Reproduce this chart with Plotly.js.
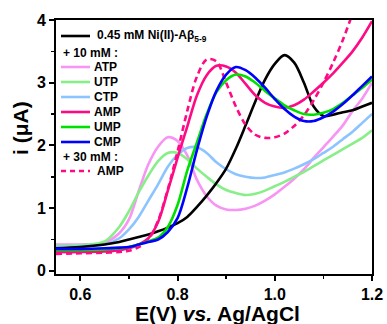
<!DOCTYPE html>
<html>
<head>
<meta charset="utf-8">
<script src="https://cdn.plot.ly/plotly-3.0.1.min.js"></script>
<style>html,body{margin:0;padding:0;background:#fff;}#chart{width:387px;height:324px;}</style>
</head>
<body>
<div id="chart"></div>
<script>
// Potential grid (V vs Ag/AgCl)
const potential = [0.55,0.60,0.65,0.68,0.70,0.72,0.74,0.76,0.78,0.80,0.82,0.84,0.86,0.88,0.90,0.92,0.94,0.96,0.98,1.00,1.02,1.04,1.06,1.08,1.10,1.12,1.14,1.16,1.18,1.20];

// Currents (µA)
const niAbeta = [0.36,0.38,0.42,0.46,0.50,0.54,0.58,0.63,0.69,0.76,0.86,1.02,1.20,1.40,1.63,1.95,2.32,2.70,3.05,3.30,3.44,3.32,3.00,2.62,2.47,2.49,2.53,2.56,2.62,2.68];
const atp10 = [0.42,0.42,0.45,0.60,0.82,1.27,1.70,1.98,2.13,2.07,1.84,1.45,1.19,1.04,0.98,0.97,0.99,1.04,1.12,1.22,1.34,1.47,1.62,1.80,1.97,2.14,2.32,2.55,2.75,3.00];
const utp10 = [0.40,0.41,0.47,0.70,0.95,1.25,1.52,1.75,1.88,1.88,1.78,1.63,1.50,1.38,1.29,1.24,1.21,1.23,1.28,1.35,1.42,1.50,1.58,1.67,1.76,1.85,1.94,2.03,2.12,2.24];
const ctp10 = [0.38,0.39,0.42,0.52,0.66,0.86,1.12,1.38,1.66,1.85,1.96,1.97,1.88,1.73,1.62,1.54,1.50,1.48,1.49,1.53,1.57,1.63,1.70,1.78,1.88,1.98,2.10,2.22,2.36,2.50];
const amp10 = [0.30,0.30,0.31,0.33,0.36,0.42,0.52,0.78,1.28,1.80,2.30,2.80,3.12,3.27,3.26,3.16,2.98,2.80,2.68,2.62,2.60,2.64,2.73,2.86,3.00,3.15,3.32,3.50,3.72,3.98];
const ump10 = [0.33,0.33,0.34,0.36,0.38,0.42,0.47,0.53,0.70,1.05,1.60,2.05,2.50,2.85,3.04,3.13,3.10,3.00,2.87,2.75,2.64,2.56,2.50,2.49,2.52,2.58,2.68,2.80,2.92,3.05];
const cmp10 = [0.35,0.35,0.36,0.37,0.38,0.42,0.46,0.50,0.62,0.84,1.33,1.93,2.46,2.87,3.13,3.25,3.20,3.08,2.92,2.74,2.58,2.46,2.39,2.39,2.45,2.54,2.66,2.80,2.95,3.10];
const amp30 = [0.27,0.28,0.29,0.30,0.32,0.38,0.50,0.80,1.30,1.90,2.55,3.10,3.37,3.34,3.00,2.62,2.33,2.17,2.12,2.13,2.19,2.31,2.48,2.72,3.00,3.32,3.68,4.10,4.50,4.90];

const seriesNames = ["0.45 mM Ni(II)-A\u03b2<sub>5-9</sub>","ATP","UTP","CTP","AMP","UMP","CMP","AMP"];
const seriesData = [niAbeta, atp10, utp10, ctp10, amp10, ump10, cmp10, amp30];
const seriesColors = ["#000000","#f794f4","#88ee88","#8cc4ff","#ff0a85","#00e000","#0000ff","#ff0a85"];
const seriesDash = ["solid","solid","solid","solid","solid","solid","solid","6px,4px"];
// legend rows (pixel y within 324 px canvas) and header rows
const legendRowY = [36, 67, 82, 97, 112, 127, 142, 171];
const headerTexts = ["+ 10 mM :", "+ 30 mM :"];
const headerRowY = [53, 157];
const xTitle = "E(V) <i>vs.</i> Ag/AgCl";
const yTitle = "i (\u03bcA)";

const W = 387, H = 324, mL = 56, mR = 15, mT = 20, mB = 50;
const pw = W - mL - mR, ph = H - mT - mB;
const px2x = p => (p - mL) / pw;
const py2y = p => (H - mB - p) / ph;

const traces = seriesData.map((d, i) => ({
  x: potential, y: d, type: "scatter", mode: "lines",
  line: {color: seriesColors[i], width: 2.6, dash: seriesDash[i], shape: "spline", smoothing: 0.9},
  showlegend: false, hoverinfo: "skip"
}));
// draw order: light ones first, then strong ones
const order = [1,2,3,0,4,7,5,6];
const orderedTraces = order.map(i => traces[i]);

const shapes = [], annotations = [];
const fontFam = "Liberation Sans, Arial, sans-serif";
seriesNames.forEach((n, i) => {
  const yy = py2y(legendRowY[i]);
  shapes.push({type: "line", xref: "paper", yref: "paper", x0: px2x(61), x1: px2x(90), y0: yy, y1: yy,
    line: {color: seriesColors[i], width: 2.6, dash: seriesDash[i] === "solid" ? "solid" : "5px,4px"}});
  const tx = (i === 0 || i === 7) ? 95 : 92;
  annotations.push({xref: "paper", yref: "paper", x: px2x(tx), y: yy, xanchor: "left", yanchor: "middle",
    text: "<b>" + n + "</b>", showarrow: false, font: {family: fontFam, size: 12, color: "#000"}});
});
headerTexts.forEach((t, i) => {
  annotations.push({xref: "paper", yref: "paper", x: px2x(61), y: py2y(headerRowY[i]), xanchor: "left", yanchor: "middle",
    text: "<b>" + t + "</b>", showarrow: false, font: {family: fontFam, size: 12, color: "#000"}});
});
// axis titles
annotations.push({xref: "paper", yref: "paper", x: px2x(20), y: py2y(128), xanchor: "center", yanchor: "middle",
  textangle: -90, text: "<b>" + yTitle + "</b>", showarrow: false, font: {family: fontFam, size: 21, color: "#000"}});
annotations.push({xref: "paper", yref: "paper", x: px2x(217), y: py2y(313), xanchor: "center", yanchor: "middle",
  text: "<b>" + xTitle + "</b>", showarrow: false, font: {family: fontFam, size: 21, color: "#000"}});

const axisCommon = {
  showline: true, mirror: true, linecolor: "#000", linewidth: 2,
  ticks: "outside", ticklen: 5, tickwidth: 2, tickcolor: "#000",
  showgrid: false, zeroline: false,
  tickfont: {family: fontFam, size: 16, color: "#000", weight: "bold"},
  minor: {ticks: "outside", ticklen: 3, tickwidth: 1.5, tickcolor: "#000", showgrid: false}
};

const layout = {
  width: W, height: H,
  margin: {l: mL, r: mR, t: mT, b: mB},
  paper_bgcolor: "#fff", plot_bgcolor: "#fff",
  showlegend: false,
  xaxis: Object.assign({}, axisCommon, {
    range: [0.55, 1.2], tickvals: [0.6, 0.8, 1.0, 1.2], tickformat: ".1f",
    minor: Object.assign({}, axisCommon.minor, {tickvals: [0.7, 0.9, 1.1]})
  }),
  yaxis: Object.assign({}, axisCommon, {
    range: [-0.05, 4], tickvals: [0, 1, 2, 3, 4],
    minor: Object.assign({}, axisCommon.minor, {tickvals: [0.5, 1.5, 2.5, 3.5]})
  }),
  shapes: shapes, annotations: annotations
};

Plotly.newPlot("chart", orderedTraces, layout, {displayModeBar: false, staticPlot: true});
</script>
</body>
</html>
